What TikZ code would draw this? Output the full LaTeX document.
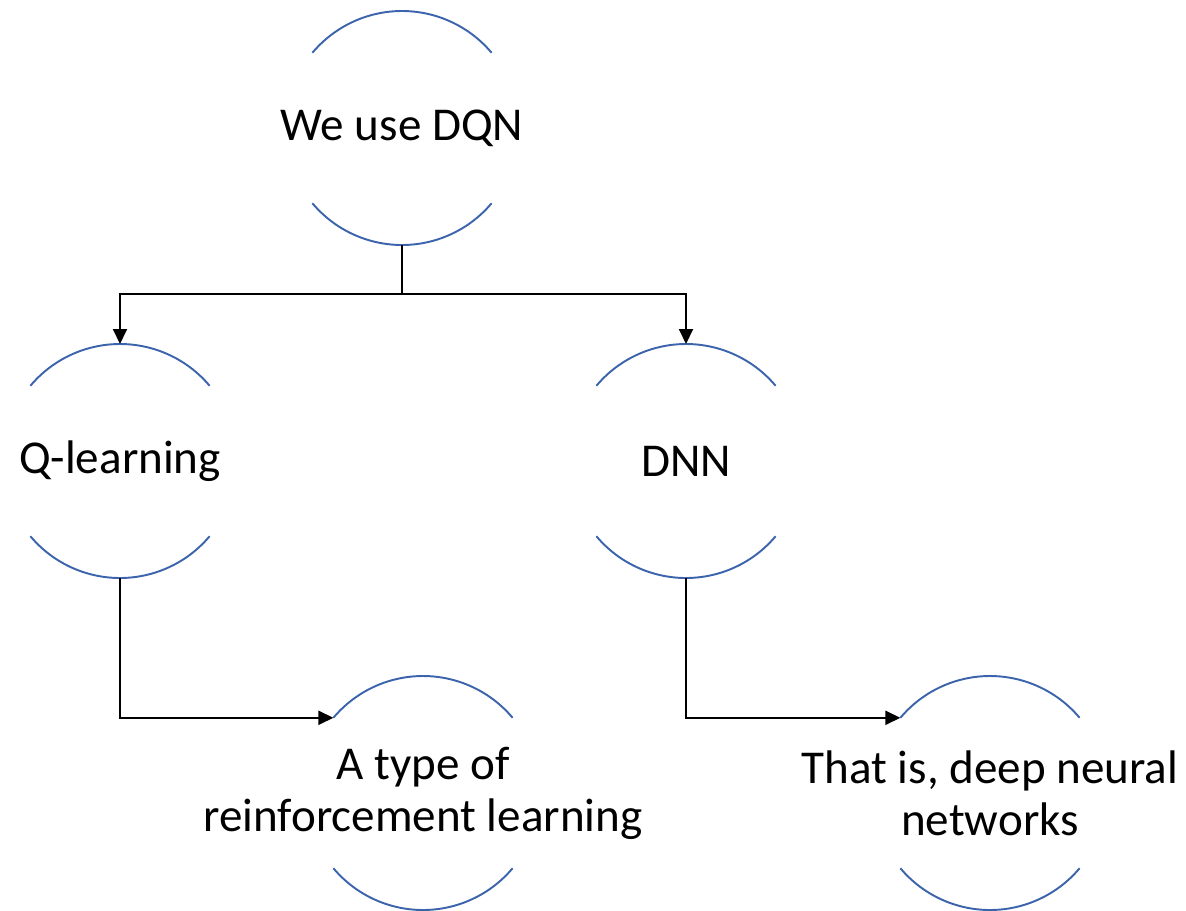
\documentclass[tikz,border=0pt]{standalone}
\usepackage{fontspec}
\setmainfont{Carlito}
\usetikzlibrary{arrows.meta, positioning, calc}
\definecolor{arcBlue}{HTML}{3C64AC}

\begin{document}
\begin{tikzpicture}[
    idea/.style={inner sep=0pt, align=center,
                 font=\fontsize{26.8}{29.6}\selectfont},
    ring/.style={draw=arcBlue, line width=1.1pt},
    link/.style={draw=black, line width=1.1pt,
                 -{Triangle[length=0.3cm, width=0.28cm]}},
  ]
    \useasboundingbox (0,0) rectangle (23.72,-18.2);

    \node[idea] (dqn) at (8.04,-2.56) {We use DQN};
    \node[idea] (qlearn) at (2.40,-9.22) {Q-learning};
    \node[idea] (dnn) at (13.72,-9.22) {DNN};
    \node[idea] (rl) at (8.46,-15.86) {A type of\\reinforcement learning};
    \node[idea] (deepnn) at (19.80,-15.86) {That is, deep neural\\networks};

    % top and bottom arcs of every circle
    \foreach \n in {dqn, qlearn, dnn, rl, deepnn} {
      \coordinate (\n-top) at ($(\n.center)+(0,2.34)$);
      \coordinate (\n-bot) at ($(\n.center)+(0,-2.34)$);
      \coordinate (\n-in) at ($(\n.center)+(140:2.34)$);
      \draw[ring] ($(\n.center)+(40:2.34)$) arc[start angle=40, end angle=140, radius=2.34cm];
      \draw[ring] ($(\n.center)+(220:2.34)$) arc[start angle=220, end angle=320, radius=2.34cm];
    }

    \coordinate (split) at ($(dqn-bot)+(0,-0.98)$);
    \draw[line width=1.1pt] (dqn-bot) -- (split);
    \draw[link] (split) -| (qlearn-top);
    \draw[link] (split) -| (dnn-top);
    \draw[link] (qlearn-bot) |- (rl-in);
    \draw[link] (dnn-bot) |- (deepnn-in);
  \end{tikzpicture}
\end{document}
